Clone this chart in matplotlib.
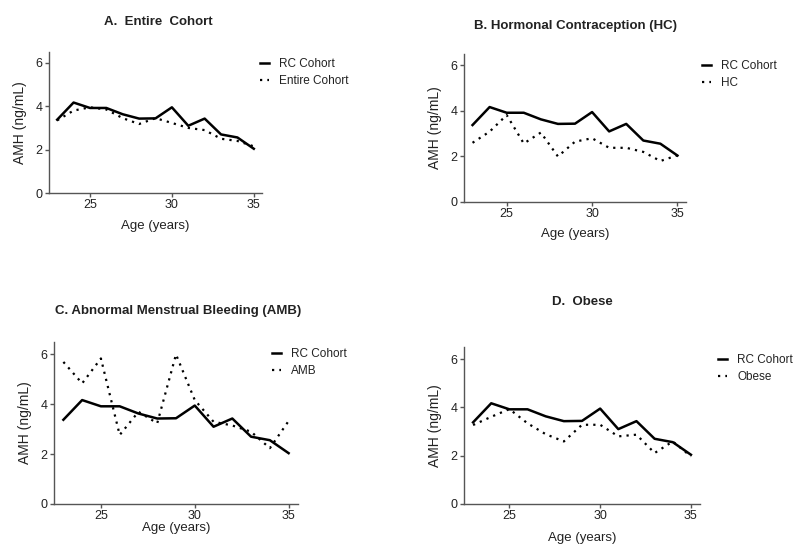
import numpy as np
import matplotlib
matplotlib.use("Agg")
import matplotlib.pyplot as plt

plt.rcParams['font.family'] = ['Liberation Sans', 'DejaVu Sans']

# data
age = [23, 24, 25, 26, 27, 28, 29, 30, 31, 32, 33, 34, 35]
rc_cohort = [3.38, 4.17, 3.92, 3.92, 3.63, 3.43, 3.44, 3.95, 3.1, 3.43, 2.7, 2.56, 2.04]
entire = [3.35, 3.8, 3.95, 3.85, 3.45, 3.18, 3.45, 3.23, 3.0, 2.9, 2.5, 2.4, 2.15]
hc = [2.6, 3.09, 3.82, 2.57, 3.05, 2.0, 2.65, 2.8, 2.38, 2.38, 2.2, 1.8, 2.05]
amb = [5.7, 4.84, 5.84, 2.77, 3.7, 3.24, 6.0, 4.17, 3.3, 3.15, 2.9, 2.24, 3.33]
obese = [3.27, 3.61, 3.93, 3.34, 2.89, 2.59, 3.28, 3.28, 2.8, 2.87, 2.11, 2.59, 1.97]

W, H = 800, 556

# panel: (axes box in px [left, top, right, bottom], title, title xy, legend xy, xlabel y, series, label)
panels = [
    ([49, 52, 262, 193], 'A.  Entire  Cohort', (158, 22), (255, 53), 226, entire, 'Entire Cohort'),
    ([464, 54, 686, 202], 'B. Hormonal Contraception (HC)', (575, 26), (697, 55), 234, hc, 'HC'),
    ([54, 342, 298, 504], 'C. Abnormal Menstrual Bleeding (AMB)', (178, 311), (267, 343), 528, amb, 'AMB'),
    ([464, 347, 700, 504], 'D.  Obese', (582, 302), (713, 349), 538, obese, 'Obese'),
]

axcol = '#555555'
fig = plt.figure(figsize=(W / 100, H / 100), dpi=100)

for box, title, txy, lxy, xly, series, lab in panels:
    l, t, r, b = box
    ax = fig.add_axes([l / W, (H - b) / H, (r - l) / W, (b - t) / H])
    ax.plot(age, rc_cohort, color='black', lw=1.8, label='RC Cohort')
    ax.plot(age, series, color='black', lw=1.6, linestyle=(0, (1, 2.3)), label=lab)
    ax.set_xlim(22.5, 35.5)
    ax.set_ylim(0, 6.5)
    ax.set_xticks([25, 30, 35])
    ax.set_yticks([0, 2, 4, 6])
    for s in ['top', 'right']:
        ax.spines[s].set_visible(False)
    for s in ['left', 'bottom']:
        ax.spines[s].set_linewidth(1.0)
        ax.spines[s].set_color(axcol)
    ax.tick_params(direction='out', length=3, width=1, color=axcol,
                   labelcolor='#222222', labelsize=9, pad=1.5)
    ax.set_ylabel('AMH (ng/mL)', fontsize=10, labelpad=6, color='#222222')
    fig.text((l + r) / 2 / W, 1 - xly / H, 'Age (years)', fontsize=9.5,
             ha='center', va='center', color='#222222')
    fig.text(txy[0] / W, 1 - txy[1] / H, title, fontsize=9.5, fontweight='bold',
             ha='center', va='center', color='#222222')
    leg = ax.legend(loc='upper left', bbox_to_anchor=(lxy[0] / W, 1 - lxy[1] / H),
                    bbox_transform=fig.transFigure, frameon=False, fontsize=8.5,
                    handlelength=0.75, handletextpad=0.9, labelspacing=0.45,
                    borderaxespad=0)
    for tx in leg.get_texts():
        tx.set_color('#222222')

fig.savefig('out.png', dpi=100)
